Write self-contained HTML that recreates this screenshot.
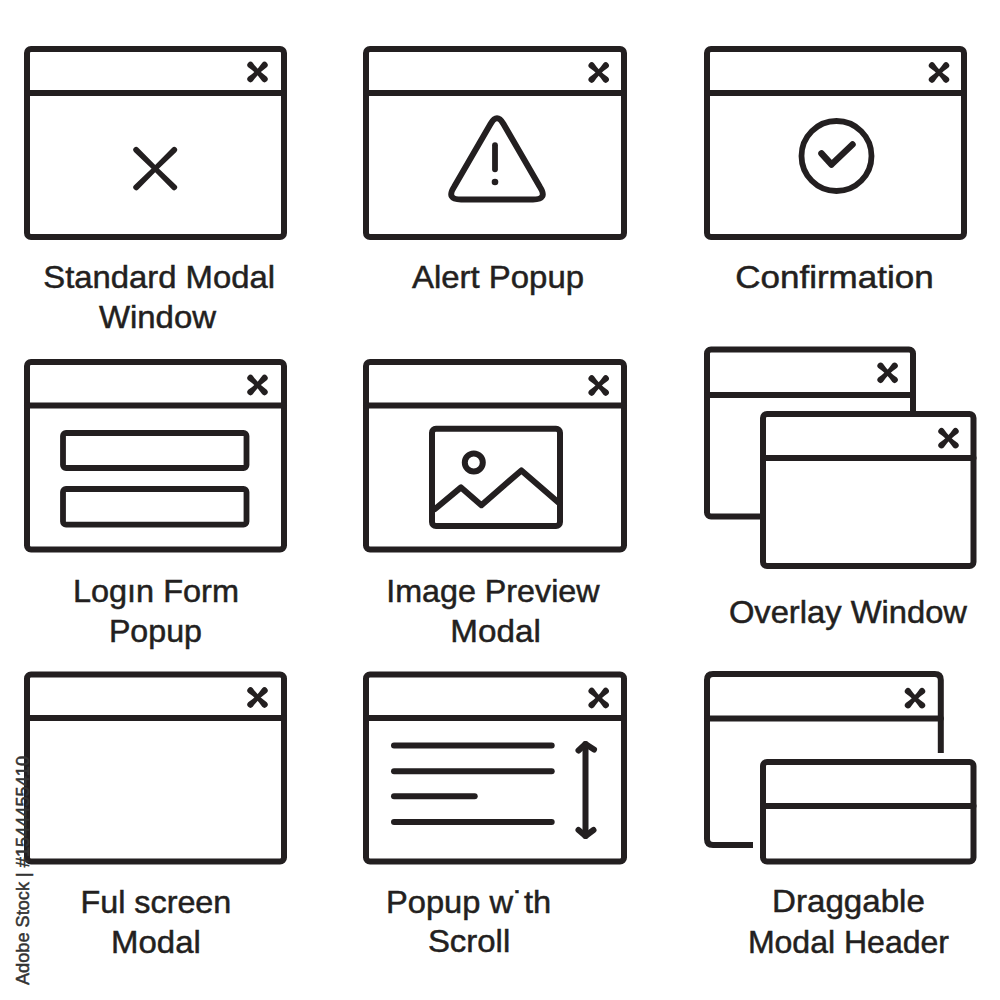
<!DOCTYPE html>
<html>
<head>
<meta charset="utf-8">
<style>
html,body{margin:0;padding:0;background:#fff;width:1000px;height:1000px;overflow:hidden;}
svg{display:block;position:absolute;left:0;top:0;}
text{font-family:"Liberation Sans",sans-serif;font-size:32px;fill:#231f20;stroke:#231f20;stroke-width:0.5px;}
</style>
</head>
<body>
<svg width="1000" height="1000" viewBox="0 0 1000 1000">
<g fill="none" stroke="#231f20" stroke-width="6" stroke-linecap="round" stroke-linejoin="round">
  <!-- Row 1 -->
  <rect x="27" y="49" width="257" height="188" rx="4"/>
  <line x1="27" y1="93" x2="284" y2="93"/>
  <rect x="366" y="49" width="258" height="188" rx="4"/>
  <line x1="366" y1="93" x2="624" y2="93"/>
  <rect x="707" y="49" width="257" height="188" rx="4"/>
  <line x1="707" y1="93" x2="964" y2="93"/>

  <!-- Row 2 -->
  <rect x="27" y="362" width="257" height="187.5" rx="4"/>
  <line x1="27" y1="405.5" x2="284" y2="405.5"/>
  <rect x="366" y="362" width="258" height="187.5" rx="4"/>
  <line x1="366" y1="405.5" x2="624" y2="405.5"/>

  <!-- Row 3 -->
  <rect x="27" y="674.5" width="257" height="187" rx="4"/>
  <line x1="27" y1="718" x2="284" y2="718"/>
  <rect x="366" y="674.5" width="258" height="187" rx="4"/>
  <line x1="366" y1="718" x2="624" y2="718"/>

  <!-- Icon 1 big X -->
  <g transform="translate(155.2 168.6)" fill="#231f20" stroke="none">
    <path transform="rotate(44.5)" d="M-26.7 -2.9 Q0 -2.1 26.7 -2.9 A2.9 2.9 0 0 1 26.7 2.9 Q0 2.1 -26.7 2.9 A2.9 2.9 0 0 1 -26.7 -2.9 Z"/>
    <path transform="rotate(-44.5)" d="M-26.7 -2.9 Q0 -2.1 26.7 -2.9 A2.9 2.9 0 0 1 26.7 2.9 Q0 2.1 -26.7 2.9 A2.9 2.9 0 0 1 -26.7 -2.9 Z"/>
  </g>

  <!-- Icon 2 triangle -->
  <path d="M490.5 124 Q497 112.5 503.5 124 L540 187 Q548 199.5 533 199.5 L461 199.5 Q446 199.5 454 187 Z"/>
  <line x1="495" y1="145.2" x2="495" y2="169.3" stroke-width="5.8"/>

  <!-- Icon 3 circle check -->
  <circle cx="836.5" cy="156" r="35" stroke-width="5.8"/>
  <path d="M821.5 153.5 L831.5 164.5 L852.5 144.5" stroke-width="6.5"/>

  <!-- Icon 4 form fields -->
  <rect x="63" y="433" width="183.5" height="35" rx="3" stroke-width="5.8"/>
  <rect x="63" y="489" width="183.5" height="35.6" rx="3" stroke-width="5.8"/>

  <!-- Icon 5 image -->
  <rect x="432" y="428.7" width="128" height="97.3" rx="4" stroke-width="6"/>
  <circle cx="473.8" cy="462.4" r="9" stroke-width="6"/>
  <path d="M435 509 L461 487.4 L481.4 505.2 L521.4 470.4 L559 503" stroke-width="6"/>

  <!-- Icon 6 overlay -->
  <rect x="707" y="349.5" width="206" height="167" rx="4"/>
  <line x1="707" y1="395" x2="913" y2="395"/>
  <rect x="763" y="414" width="210.5" height="152" rx="4" fill="#fff"/>
  <line x1="763" y1="458" x2="973.5" y2="458"/>

  <!-- Icon 8 scroll -->
  <g stroke-width="6">
    <line x1="394" y1="745.5" x2="551.7" y2="745.5"/>
    <line x1="394" y1="771.25" x2="551.7" y2="771.25"/>
    <line x1="394" y1="796.25" x2="474.7" y2="796.25"/>
    <line x1="394" y1="822" x2="551.7" y2="822"/>
    <line x1="585.5" y1="744" x2="585.5" y2="836"/>
    <path d="M578.5 750.5 L585.5 744 L594 749.5"/>
    <path d="M578.5 830 L585.5 836 L593.5 830"/>
  </g>

  <!-- Icon 9 draggable -->
  <path d="M753 845 L713 845 Q707 845 707 839 L707 680 Q707 674 713 674 L934.8 674 Q940.8 674 940.8 680 L940.8 753" stroke-linecap="butt"/>
  <line x1="707" y1="718.5" x2="940.8" y2="718.5"/>
  <rect x="763" y="762" width="210.5" height="99.5" rx="4"/>
  <line x1="763" y1="806" x2="973.5" y2="806"/>
</g>
<g fill="#231f20">
  <circle cx="495" cy="182" r="3.3"/>
</g>

<!-- small x close buttons -->
<defs><g id="sx" fill="#231f20"><path transform="rotate(45)" d="M-9.9 -3.2 Q0 -1.2 9.9 -3.2 A3.2 3.2 0 0 1 9.9 3.2 Q0 1.2 -9.9 3.2 A3.2 3.2 0 0 1 -9.9 -3.2 Z"/><path transform="rotate(-45)" d="M-9.9 -3.2 Q0 -1.2 9.9 -3.2 A3.2 3.2 0 0 1 9.9 3.2 Q0 1.2 -9.9 3.2 A3.2 3.2 0 0 1 -9.9 -3.2 Z"/></g></defs>
<use href="#sx" x="257.5" y="72"/>
<use href="#sx" x="598.7" y="72.5"/>
<use href="#sx" x="939" y="72.5"/>
<use href="#sx" x="257.5" y="385"/>
<use href="#sx" x="598.7" y="385.5"/>
<use href="#sx" x="257.5" y="697.5"/>
<use href="#sx" x="598.7" y="698"/>
<use href="#sx" x="887.6" y="372.8"/>
<use href="#sx" x="948.5" y="438.2"/>
<use href="#sx" x="915" y="698.2"/>

<!-- labels -->
<text x="43.3" y="288" textLength="231.7" lengthAdjust="spacingAndGlyphs">Standard Modal</text>
<text x="98.9" y="328" textLength="117.1" lengthAdjust="spacingAndGlyphs">Window</text>
<text x="412.0" y="288" textLength="172.0" lengthAdjust="spacingAndGlyphs">Alert Popup</text>
<text x="735.2" y="288" textLength="198.5" lengthAdjust="spacingAndGlyphs">Confirmation</text>

<text x="72.9" y="601.5" textLength="166.1" lengthAdjust="spacingAndGlyphs">Logın Form</text>
<text x="108.9" y="641.5" textLength="93.1" lengthAdjust="spacingAndGlyphs">Popup</text>
<text x="386.2" y="601.8" textLength="213.4" lengthAdjust="spacingAndGlyphs">Image Preview</text>
<text x="450.3" y="641.8" textLength="90.5" lengthAdjust="spacingAndGlyphs">Modal</text>
<text x="728.9" y="623" textLength="238.1" lengthAdjust="spacingAndGlyphs">Overlay Window</text>

<text x="80.5" y="913" textLength="150.8" lengthAdjust="spacingAndGlyphs">Ful screen</text>
<text x="111.1" y="953" textLength="89.7" lengthAdjust="spacingAndGlyphs">Modal</text>
<text x="386.0" y="913" textLength="165.2" lengthAdjust="spacingAndGlyphs">Popup w˙th</text>
<text x="427.9" y="952" textLength="82.3" lengthAdjust="spacingAndGlyphs">Scroll</text>
<text x="772.1" y="912" textLength="152.7" lengthAdjust="spacingAndGlyphs">Draggable</text>
<text x="747.9" y="952.5" textLength="201.1" lengthAdjust="spacingAndGlyphs">Modal Header</text>

<!-- vertical stock id -->
<text transform="translate(29,985) rotate(-90)" style="font-size:18px;fill:#333;stroke:#333;stroke-width:0.5px" textLength="229" lengthAdjust="spacingAndGlyphs">Adobe Stock | #1544455410</text>
</svg>
</body>
</html>
